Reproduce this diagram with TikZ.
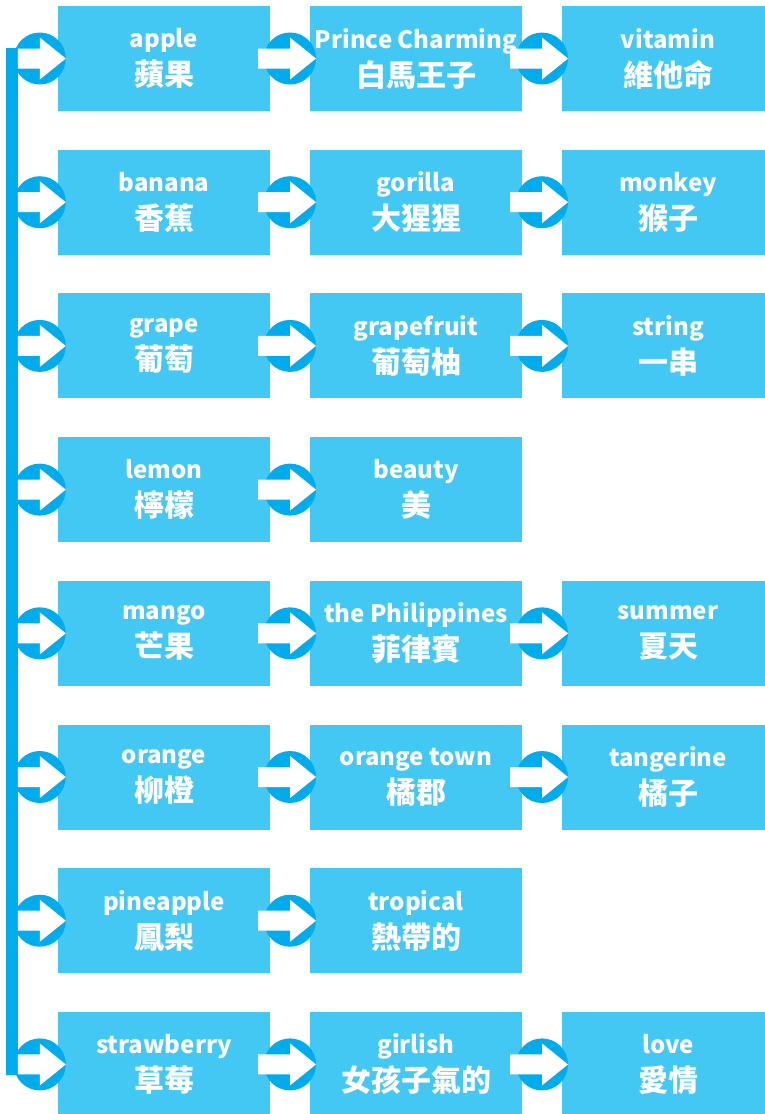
\documentclass[tikz,border=0pt]{standalone}
\usepackage{fontspec}
\newfontfamily\cjk{Noto Sans CJK TC}
\usetikzlibrary{calc}

\definecolor{boxblue}{RGB}{67,200,244}
\definecolor{ringblue}{RGB}{0,172,236}

% white block arrow sitting in a ring, #2 = stem length behind the centre
\newcommand\pointer[2]{%
  \fill[white, shift={(#1.center)}] (-#2,-10) -- (0,-10) -- (0,-21)
    -- (26,0) -- (0,21) -- (0,10) -- (-#2,10) -- cycle;}

\begin{document}
\begin{tikzpicture}[
  x=1pt, y=-1pt,
  word/.style={fill=boxblue, minimum width=212pt, minimum height=105pt,
               inner sep=0pt, align=center, text=white,
               font=\cjk\bfseries\fontsize{24}{38}\selectfont},
  ring/.style={circle, fill=ringblue, minimum size=52pt, inner sep=0pt},
  spine/.style={draw=ringblue, line width=12pt}
]
  \path[clip] (0,0) rectangle (765,1114);

  % row 1
  \node[word] (apple)     at (164,58.5)  {apple\\{\fontsize{30}{38}\selectfont 蘋果}};
  \node[word] (charming)  at (416,58.5)  {Prince Charming\\{\fontsize{30}{38}\selectfont 白馬王子}};
  \node[word] (vitamin)   at (668,58.5)  {vitamin\\{\fontsize{30}{38}\selectfont 維他命}};
  % row 2
  \node[word] (banana)    at (164,202.2) {banana\\{\fontsize{30}{38}\selectfont 香蕉}};
  \node[word] (gorilla)   at (416,202.2) {gorilla\\{\fontsize{30}{38}\selectfont 大猩猩}};
  \node[word] (monkey)    at (668,202.2) {monkey\\{\fontsize{30}{38}\selectfont 猴子}};
  % row 3
  \node[word] (grape)     at (164,345.9) {grape\\{\fontsize{30}{38}\selectfont 葡萄}};
  \node[word] (grapefruit) at (416,345.9) {grapefruit\\{\fontsize{30}{38}\selectfont 葡萄柚}};
  \node[word] (string)    at (668,345.9) {string\\{\fontsize{30}{38}\selectfont 一串}};
  % row 4
  \node[word] (lemon)     at (164,489.6) {lemon\\{\fontsize{30}{38}\selectfont 檸檬}};
  \node[word] (beauty)    at (416,489.6) {beauty\\{\fontsize{30}{38}\selectfont 美}};
  % row 5
  \node[word] (mango)     at (164,633.3) {mango\\{\fontsize{30}{38}\selectfont 芒果}};
  \node[word] (philippines) at (416,633.3) {the Philippines\\{\fontsize{30}{38}\selectfont 菲律賓}};
  \node[word] (summer)    at (668,633.3) {summer\\{\fontsize{30}{38}\selectfont 夏天}};
  % row 6
  \node[word] (orange)    at (164,777)   {orange\\{\fontsize{30}{38}\selectfont 柳橙}};
  \node[word] (town)      at (416,777)   {orange town\\{\fontsize{30}{38}\selectfont 橘郡}};
  \node[word] (tangerine) at (668,777)   {tangerine\\{\fontsize{30}{38}\selectfont 橘子}};
  % row 7
  \node[word] (pineapple) at (164,920.7) {pineapple\\{\fontsize{30}{38}\selectfont 鳳梨}};
  \node[word] (tropical)  at (416,920.7) {tropical\\{\fontsize{30}{38}\selectfont 熱帶的}};
  % row 8
  \node[word] (strawberry) at (164,1064.4) {strawberry\\{\fontsize{30}{38}\selectfont 草莓}};
  \node[word] (girlish)   at (416,1064.4) {girlish\\{\fontsize{30}{38}\selectfont 女孩子氣的}};
  \node[word] (love)      at (668,1064.4) {love\\{\fontsize{30}{38}\selectfont 愛情}};

  % spine on the left
  \coordinate (top)    at (12,48);
  \coordinate (bottom) at (12,1075);
  \draw[spine] (top) -- (bottom);

  % rings in front of the first column
  \foreach \w in {apple,banana,grape,lemon,mango,orange,pineapple,strawberry}{
    \node[ring] (in-\w) at ([xshift=-18pt]\w.west) {};
    \pointer{in-\w}{22}
  }

  % rings between the columns
  \foreach \a/\b in {apple/charming, charming/vitamin, banana/gorilla,
                     gorilla/monkey, grape/grapefruit, grapefruit/string,
                     lemon/beauty, mango/philippines, philippines/summer,
                     orange/town, town/tangerine, pineapple/tropical,
                     strawberry/girlish, girlish/love}{
    \node[ring] (\a-\b) at ($(\a.east)!0.5!(\b.west)$) {};
    \pointer{\a-\b}{32}
  }
\end{tikzpicture}
\end{document}
